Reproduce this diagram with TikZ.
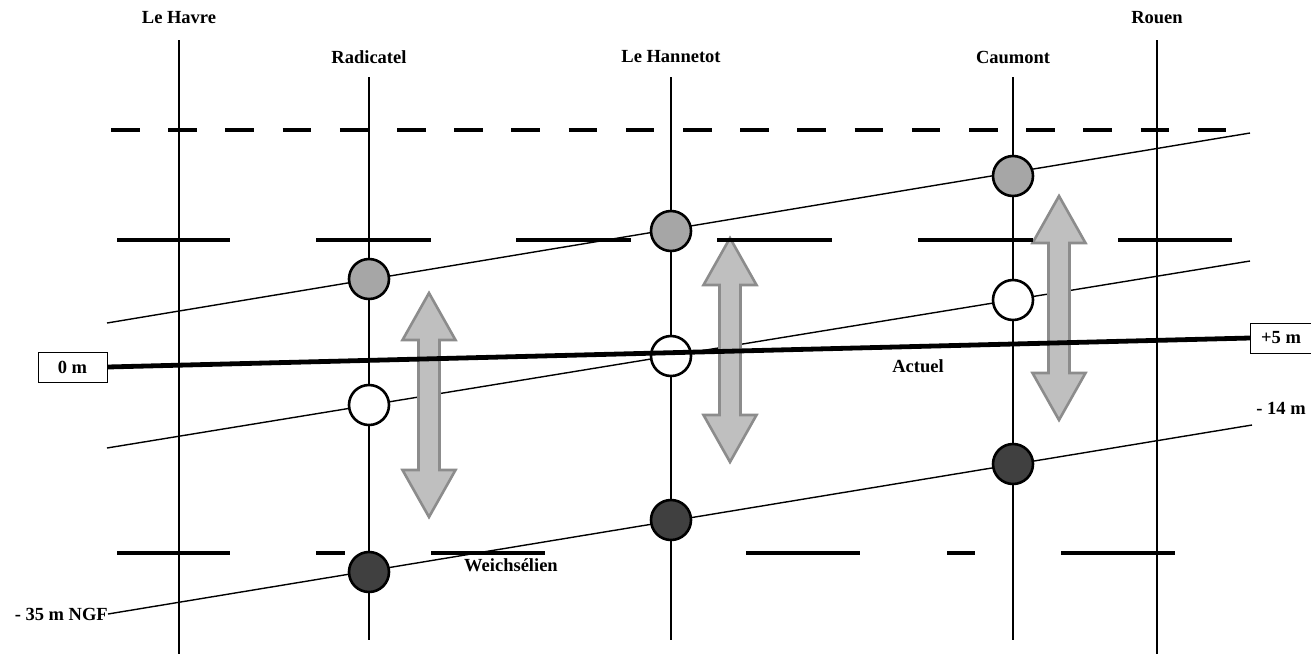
\documentclass[tikz,border=0pt]{standalone}
\usepackage{fontspec}
\setmainfont{Liberation Serif}
\begin{document}
\begin{tikzpicture}[x=1pt,y=-1pt,
  lbl/.style={font=\fontsize{18.5}{20}\selectfont\bfseries, inner sep=1pt},
  boxlbl/.style={lbl, draw, line width=1pt, minimum width=69pt, minimum height=30pt},
  vline/.style={line width=1.8pt},
  thin/.style={line width=1.4pt},
  lvl/.style={line width=3.5pt},
  thickline/.style={line width=4.8pt},
  circ/.style={circle, draw=black, line width=2.6pt, minimum size=40pt, inner sep=0pt},
  graycirc/.style={circ, fill=black!35},
  whitecirc/.style={circ, fill=white},
  darkcirc/.style={circ, fill=black!75},
  blockarrow/.style={fill=black!25, draw=black!45, line width=2.6pt, line join=miter}
]
\useasboundingbox (0,0) rectangle (1311,654);

% column labels
\node[lbl] (lh) at (179,18) {Le Havre};
\node[lbl] (ro) at (1157,18) {Rouen};
\node[lbl] (ra) at (369,57) {Radicatel};
\node[lbl] (ha) at (671,57) {Le Hannetot};
\node[lbl] (ca) at (1013,57) {Caumont};

% vertical lines
\coordinate (lhT) at (179,40);  \coordinate (lhB) at (179,654);
\coordinate (roT) at (1157,40); \coordinate (roB) at (1157,654);
\coordinate (raT) at (369,77);  \coordinate (raB) at (369,640);
\coordinate (haT) at (671,77);  \coordinate (haB) at (671,640);
\coordinate (caT) at (1013,77); \coordinate (caB) at (1013,640);
\draw[vline] (lhT) -- (lhB);
\draw[vline] (roT) -- (roB);
\draw[vline] (raT) -- (raB);
\draw[vline] (haT) -- (haB);
\draw[vline] (caT) -- (caB);

% sloped thin lines
\coordinate (t1) at (107,323); \coordinate (t2) at (1250,133);
\coordinate (m1) at (107,448); \coordinate (m2) at (1250,261);
\draw[thin] (t1) -- (t2);
\draw[thin] (m1) -- (m2);
\node[lbl, anchor=east, inner sep=0pt] (ngf) at (108,614) {- 35 m NGF};
\node[lbl] (m14) at (1281,408) {- 14 m};
\coordinate (b2) at (1252,425);
\draw[thin] (ngf.east) -- (b2);

% block arrows
\foreach \cx/\ty in {429/293, 730/238, 1059/196}{
  \draw[blockarrow] (\cx,\ty) -- ++(26.5,47) -- ++(-16,0) -- ++(0,130) -- ++(16,0)
     -- ++(-26.5,47) -- ++(-26.5,-47) -- ++(16,0) -- ++(0,-130) -- ++(-16,0) -- cycle;
}

% level lines
\draw[lvl, dash pattern=on 28.5pt off 28.7pt] (111,130) -- (1228,130);
\foreach \a/\b in {117/230, 316/431, 516/631, 717/832, 918/1033, 1118/1232}{
  \draw[lvl] (\a,240) -- (\b,240);
}
\foreach \a/\b in {117/230, 316/345, 431/545, 746/860, 947/975, 1061/1175}{
  \draw[lvl] (\a,553) -- (\b,553);
}

% circles
\node[graycirc] (g1) at (369,279) {};
\node[graycirc] (g2) at (671,231) {};
\node[graycirc] (g3) at (1013,176) {};
\node[whitecirc] (w1) at (369,405) {};
\node[whitecirc] (w2) at (671,356) {};
\node[whitecirc] (w3) at (1013,300) {};
\node[darkcirc] (d1) at (369,572) {};
\node[darkcirc] (d2) at (671,520) {};
\node[darkcirc] (d3) at (1013,464) {};

% thick present-day line
\node[boxlbl] (z0) at (72.5,367) {0 m};
\node[boxlbl, minimum width=61pt] (z5) at (1281,338) {+5 m};
\draw[thickline] (z0.east) -- (z5.west);
\node[lbl] (act) at (918,366) {Actuel};
\node[lbl] (wei) at (511,565) {Weichsélien};
\end{tikzpicture}
\end{document}
